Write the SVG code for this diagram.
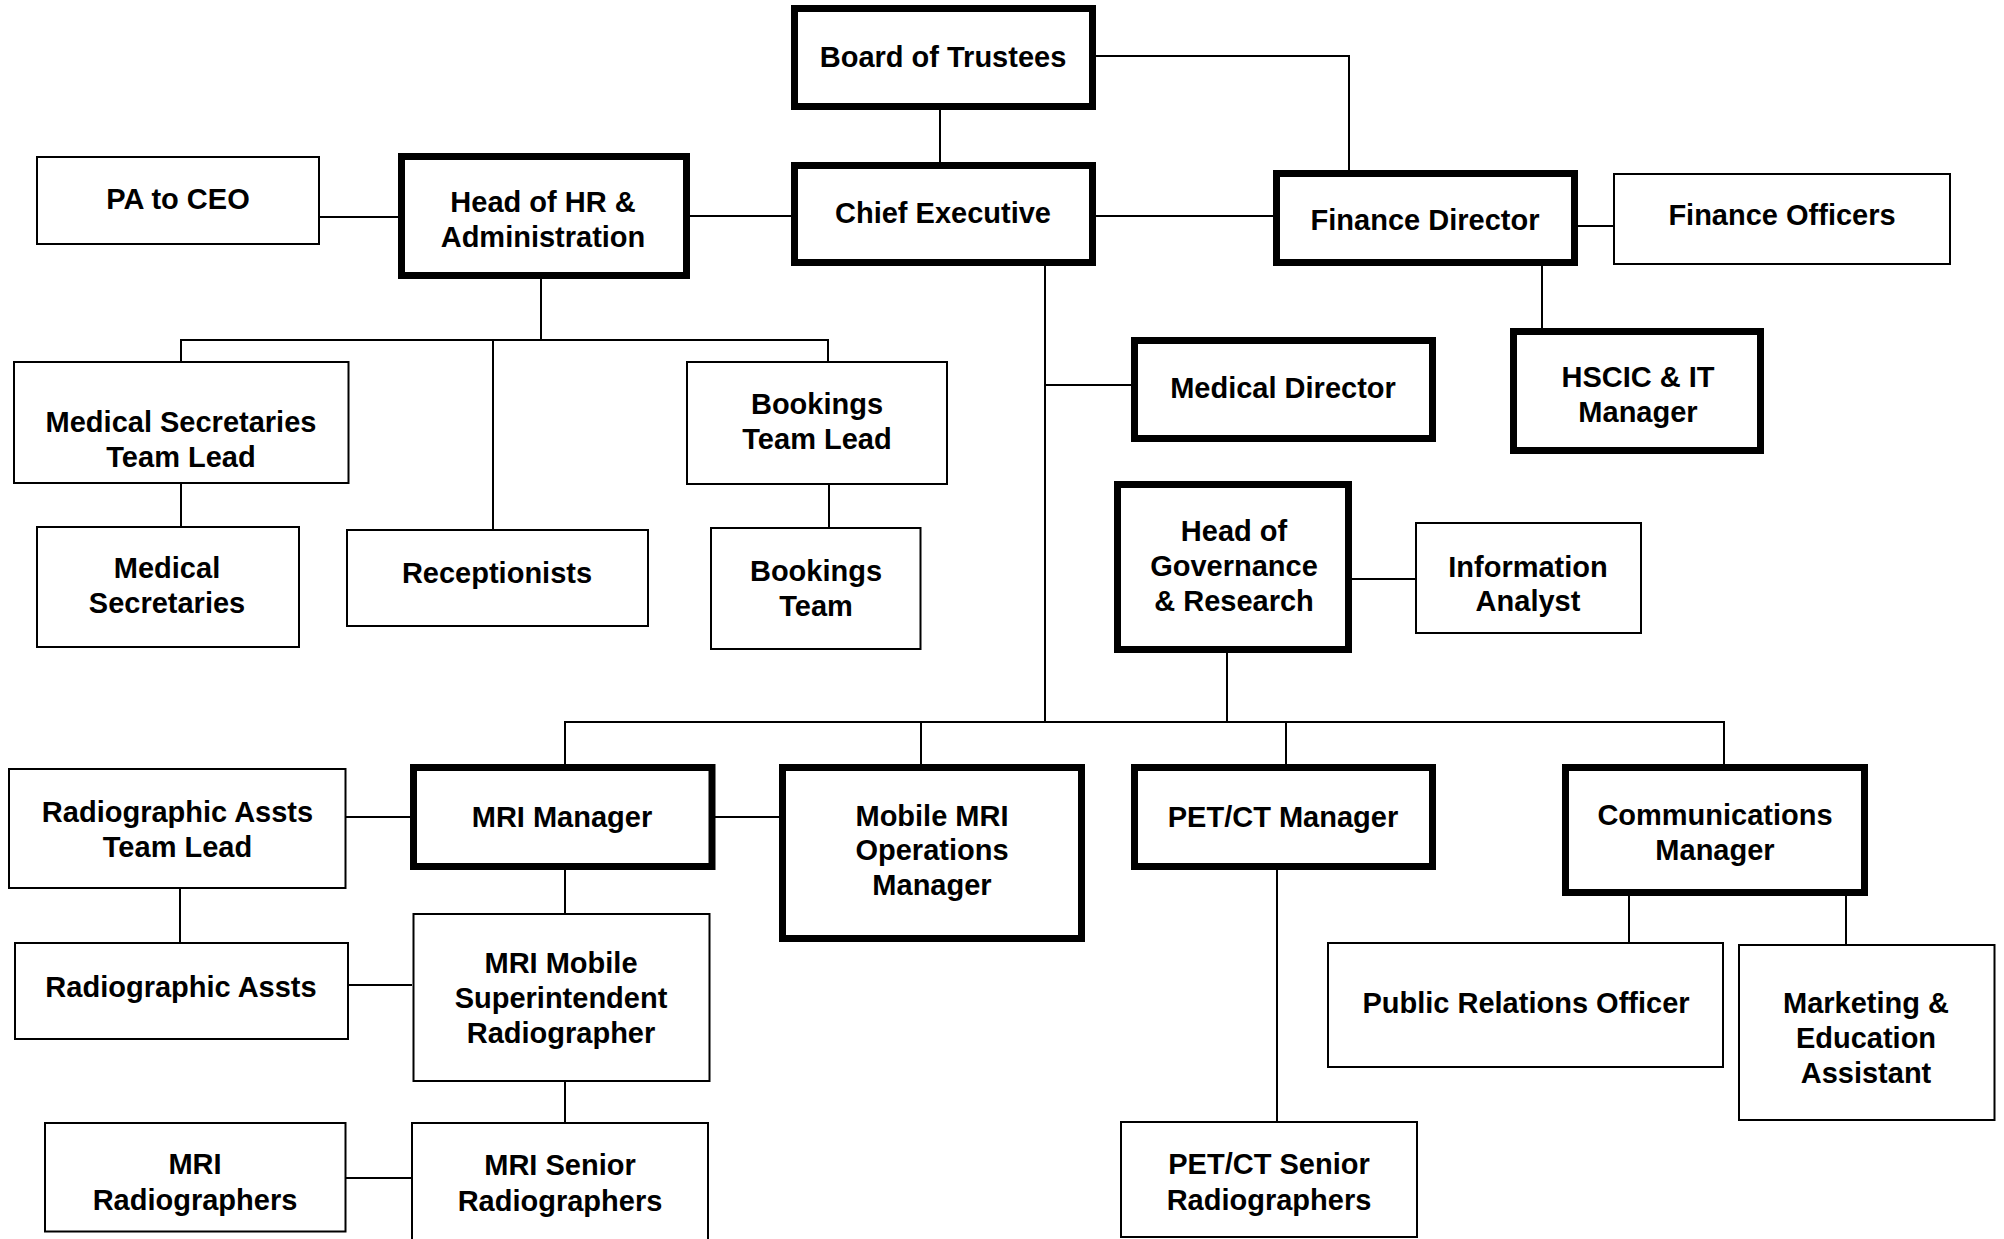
<svg xmlns="http://www.w3.org/2000/svg" width="2004" height="1239" viewBox="0 0 2004 1239">
<style>
.thick{fill:#fff;stroke:#000;stroke-width:7}
.thin{fill:#fff;stroke:#000;stroke-width:2}
.lbl{font-family:"Liberation Sans",Arial,sans-serif;font-weight:bold;font-size:29px;fill:#000;text-anchor:middle}
#connectors path{fill:none;stroke:#000;stroke-width:2}
</style>
<rect width="2004" height="1239" fill="#fff"/>
<g id="connectors">
<path d="M940 110V162"/>
<path d="M1096 56H1349V170"/>
<path d="M320 217H398"/>
<path d="M690 216H791"/>
<path d="M1096 216H1273"/>
<path d="M1578 226H1613"/>
<path d="M1542 266V328"/>
<path d="M541 279V340"/>
<path d="M181 361V340H828V361"/>
<path d="M493 340V529"/>
<path d="M181 484V526"/>
<path d="M829 485V527"/>
<path d="M1045 266V722"/>
<path d="M1045 385H1131"/>
<path d="M1352 579H1415"/>
<path d="M1227 653V722"/>
<path d="M565 764V722H1724V764"/>
<path d="M921 722V764"/>
<path d="M1286 722V764"/>
<path d="M346 817H410"/>
<path d="M715 817H779"/>
<path d="M180 889V942"/>
<path d="M565 870V913"/>
<path d="M349 985H412"/>
<path d="M565 1082V1122"/>
<path d="M346 1178H411"/>
<path d="M1277 870V1121"/>
<path d="M1629 896V942"/>
<path d="M1846 896V944"/>
</g>
<g id="board"><rect class="thick" x="794.5" y="8.5" width="298" height="98"/><text class="lbl" x="943" y="67">Board of Trustees</text></g>
<g id="ceo"><rect class="thick" x="794.5" y="165.5" width="298" height="97"/><text class="lbl" x="943" y="223">Chief Executive</text></g>
<g id="pa"><rect class="thin" x="37" y="157" width="282" height="87"/><text class="lbl" x="178" y="209">PA to CEO</text></g>
<g id="hr"><rect class="thick" x="401.5" y="156.5" width="285" height="119"/><text class="lbl" x="543" y="212">Head of HR &amp;</text><text class="lbl" x="543" y="246.5">Administration</text></g>
<g id="finance"><rect class="thick" x="1276.5" y="173.5" width="298" height="89"/><text class="lbl" x="1425" y="230">Finance Director</text></g>
<g id="finofficers"><rect class="thin" x="1614" y="174" width="336" height="90"/><text class="lbl" x="1782" y="225">Finance Officers</text></g>
<g id="hscic"><rect class="thick" x="1513.5" y="331.5" width="247" height="119"/><text class="lbl" x="1638" y="387">HSCIC &amp; IT</text><text class="lbl" x="1638" y="421.5">Manager</text></g>
<g id="meddir"><rect class="thick" x="1134.5" y="340.5" width="298" height="98"/><text class="lbl" x="1283" y="398">Medical Director</text></g>
<g id="mstl"><rect class="thin" x="14" y="362" width="334.5" height="121"/><text class="lbl" x="181" y="432">Medical Secretaries</text><text class="lbl" x="181" y="466.5">Team Lead</text></g>
<g id="ms"><rect class="thin" x="37" y="527" width="262" height="120"/><text class="lbl" x="167" y="578">Medical</text><text class="lbl" x="167" y="613">Secretaries</text></g>
<g id="recep"><rect class="thin" x="347" y="530" width="301" height="96"/><text class="lbl" x="497" y="583">Receptionists</text></g>
<g id="btl"><rect class="thin" x="687" y="362" width="260" height="122"/><text class="lbl" x="817" y="413.5">Bookings</text><text class="lbl" x="817" y="448.5">Team Lead</text></g>
<g id="bt"><rect class="thin" x="711" y="528" width="209.5" height="121"/><text class="lbl" x="816" y="581">Bookings</text><text class="lbl" x="816" y="616">Team</text></g>
<g id="hog"><rect class="thick" x="1117.5" y="484.5" width="231" height="165"/><text class="lbl" x="1234" y="541">Head of</text><text class="lbl" x="1234" y="575.5">Governance</text><text class="lbl" x="1234" y="610.5">&amp; Research</text></g>
<g id="ia"><rect class="thin" x="1416" y="523" width="225" height="110"/><text class="lbl" x="1528" y="577">Information</text><text class="lbl" x="1528" y="611">Analyst</text></g>
<g id="petct"><rect class="thick" x="1134.5" y="767.5" width="298" height="99"/><text class="lbl" x="1283" y="826.5">PET/CT Manager</text></g>
<g id="comm"><rect class="thick" x="1565.5" y="767.5" width="299" height="125"/><text class="lbl" x="1715" y="825">Communications</text><text class="lbl" x="1715" y="860">Manager</text></g>
<g id="mrimgr"><rect class="thick" x="413.5" y="767.5" width="298.5" height="99"/><text class="lbl" x="562" y="827">MRI Manager</text></g>
<g id="mobilemri"><rect class="thick" x="782.5" y="767.5" width="299" height="171"/><text class="lbl" x="932" y="825.5">Mobile MRI</text><text class="lbl" x="932" y="860">Operations</text><text class="lbl" x="932" y="894.5">Manager</text></g>
<g id="ratl"><rect class="thin" x="9" y="769" width="336.5" height="119"/><text class="lbl" x="177.5" y="822">Radiographic Assts</text><text class="lbl" x="177.5" y="857">Team Lead</text></g>
<g id="ra"><rect class="thin" x="15" y="943" width="333" height="96"/><text class="lbl" x="181" y="997">Radiographic Assts</text></g>
<g id="mms"><rect class="thin" x="413.5" y="914" width="296" height="167"/><text class="lbl" x="561" y="973">MRI Mobile</text><text class="lbl" x="561" y="1007.5">Superintendent</text><text class="lbl" x="561" y="1042.5">Radiographer</text></g>
<g id="mrisenior"><rect class="thin" x="412" y="1123" width="296" height="130"/><text class="lbl" x="560" y="1175">MRI Senior</text><text class="lbl" x="560" y="1211">Radiographers</text></g>
<g id="mrirad"><rect class="thin" x="45" y="1123" width="300.5" height="108.5"/><text class="lbl" x="195" y="1174">MRI</text><text class="lbl" x="195" y="1210">Radiographers</text></g>
<g id="petsenior"><rect class="thin" x="1121" y="1122" width="296" height="115"/><text class="lbl" x="1269" y="1174">PET/CT Senior</text><text class="lbl" x="1269" y="1210">Radiographers</text></g>
<g id="pro"><rect class="thin" x="1328" y="943" width="395" height="124"/><text class="lbl" x="1526" y="1012.5">Public Relations Officer</text></g>
<g id="marketing"><rect class="thin" x="1739" y="945" width="255.5" height="175"/><text class="lbl" x="1866" y="1013">Marketing &amp;</text><text class="lbl" x="1866" y="1048">Education</text><text class="lbl" x="1866" y="1083">Assistant</text></g>
</svg>
